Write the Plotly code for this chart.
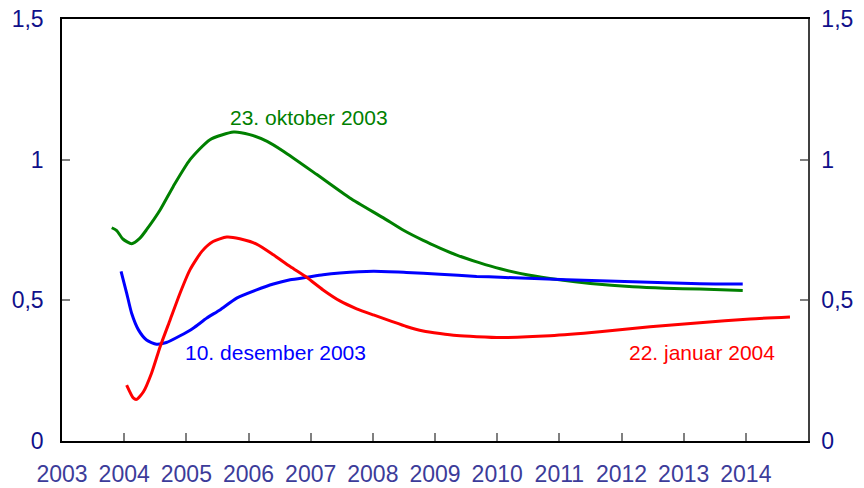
import plotly.graph_objects as go

# Curves (x in years)
okt_x = [2003.80, 2003.88, 2003.98, 2004.12, 2004.25, 2004.36, 2004.58, 2004.79,
         2005.06, 2005.38, 2005.76, 2006.02, 2006.30, 2006.56, 2007.10, 2007.63,
         2008.17, 2008.50, 2008.81, 2009.08, 2009.35, 2009.71, 2010.05, 2010.50,
         2011.00, 2011.50, 2012.18, 2012.70, 2013.26, 2013.95]
okt_y = [0.758, 0.748, 0.718, 0.701, 0.720, 0.751, 0.822, 0.905,
         1.000, 1.071, 1.098, 1.089, 1.065, 1.030, 0.947, 0.864,
         0.793, 0.748, 0.713, 0.686, 0.661, 0.634, 0.612, 0.590,
         0.573, 0.560, 0.548, 0.543, 0.540, 0.535]

des_x = [2003.95, 2004.04, 2004.12, 2004.23, 2004.36, 2004.52, 2004.68, 2004.90,
         2005.11, 2005.33, 2005.54, 2005.81, 2006.13, 2006.40, 2006.67, 2006.94,
         2007.20, 2007.47, 2008.01, 2008.54, 2009.08, 2009.67, 2010.05, 2011.12,
         2012.18, 2013.26, 2013.95]
des_y = [0.603, 0.526, 0.454, 0.395, 0.359, 0.344, 0.350, 0.374,
         0.401, 0.437, 0.466, 0.508, 0.537, 0.558, 0.573, 0.582,
         0.591, 0.597, 0.603, 0.599, 0.593, 0.585, 0.582, 0.573,
         0.566, 0.559, 0.558]

jan_x = [2004.04, 2004.15, 2004.20, 2004.31, 2004.44, 2004.58, 2004.74, 2004.90,
         2005.06, 2005.25, 2005.43, 2005.65, 2005.86, 2006.13, 2006.40, 2006.67,
         2006.94, 2007.20, 2007.47, 2007.74, 2008.01, 2008.28, 2008.54, 2008.81,
         2009.08, 2009.35, 2009.67, 2010.05, 2010.85, 2011.65, 2012.46, 2013.26,
         2014.07, 2014.71]
jan_y = [0.199, 0.152, 0.148, 0.175, 0.241, 0.336, 0.431, 0.526,
         0.609, 0.674, 0.709, 0.725, 0.719, 0.700, 0.662, 0.620,
         0.581, 0.537, 0.498, 0.470, 0.448, 0.427, 0.407, 0.391,
         0.382, 0.375, 0.371, 0.368, 0.374, 0.388, 0.406, 0.420,
         0.434, 0.441]

years = list(range(2003, 2015))
y_ticks = [0, 0.5, 1, 1.5]
y_text = ['0', '0,5', '1', '1,5']

FONT = "Liberation Sans, Arial, sans-serif"
XLAB = "#3c3c9a"
YLAB = "#10108a"

fig = go.Figure()
for xs, ys, col in [(okt_x, okt_y, '#008000'), (des_x, des_y, '#0000ff'), (jan_x, jan_y, '#ff0000')]:
    fig.add_trace(go.Scatter(x=xs, y=ys, mode='lines',
                             line=dict(color=col, width=3, shape='spline', smoothing=0.6)))
# dummy trace so the right axis is drawn
fig.add_trace(go.Scatter(x=[2003], y=[0], yaxis='y2', mode='lines', showlegend=False,
                         hoverinfo='skip', line=dict(width=0)))

labels = [
    ("23. oktober 2003", 2006.97, 1.15, '#008000'),
    ("10. desember 2003", 2006.43, 0.313, '#0000ff'),
    ("22. januar 2004", 2013.30, 0.313, '#ff0000'),
]
for txt, ax, ay, col in labels:
    fig.add_annotation(x=ax, y=ay, text=txt, showarrow=False,
                       font=dict(family=FONT, size=21, color=col))

yax = dict(range=[0, 1.5], tickvals=y_ticks, ticktext=y_text, ticks='inside', ticklen=8,
           tickcolor='#808080', tickwidth=1.5, showline=True, linecolor='#000000', linewidth=1.5,
           showgrid=False, zeroline=False, ticklabelstandoff=12, automargin=False,
           ticklabeloverflow='allow',
           tickfont=dict(family=FONT, size=23, color=YLAB))

# page body adds ~8px offset, so figure is 856x480
fig.update_layout(
    width=856, height=480,
    margin=dict(l=54, r=56, t=11, b=47),
    paper_bgcolor='white', plot_bgcolor='white',
    showlegend=False,
    xaxis=dict(range=[2003, 2015], tickvals=years, ticktext=[str(y) for y in years],
               ticks='inside', ticklen=8, tickcolor='#808080', tickwidth=1.5,
               showline=True, linecolor='#000000', linewidth=1.5, mirror=True,
               showgrid=False, zeroline=False, ticklabelstandoff=12, automargin=False,
               ticklabeloverflow='allow',
               tickfont=dict(family=FONT, size=23, color=XLAB)),
    yaxis=yax,
    yaxis2=dict(yax, overlaying='y', side='right', matches='y', linecolor='#404040',
                ticklabelstandoff=7),
)

fig.write_html("out.html")
